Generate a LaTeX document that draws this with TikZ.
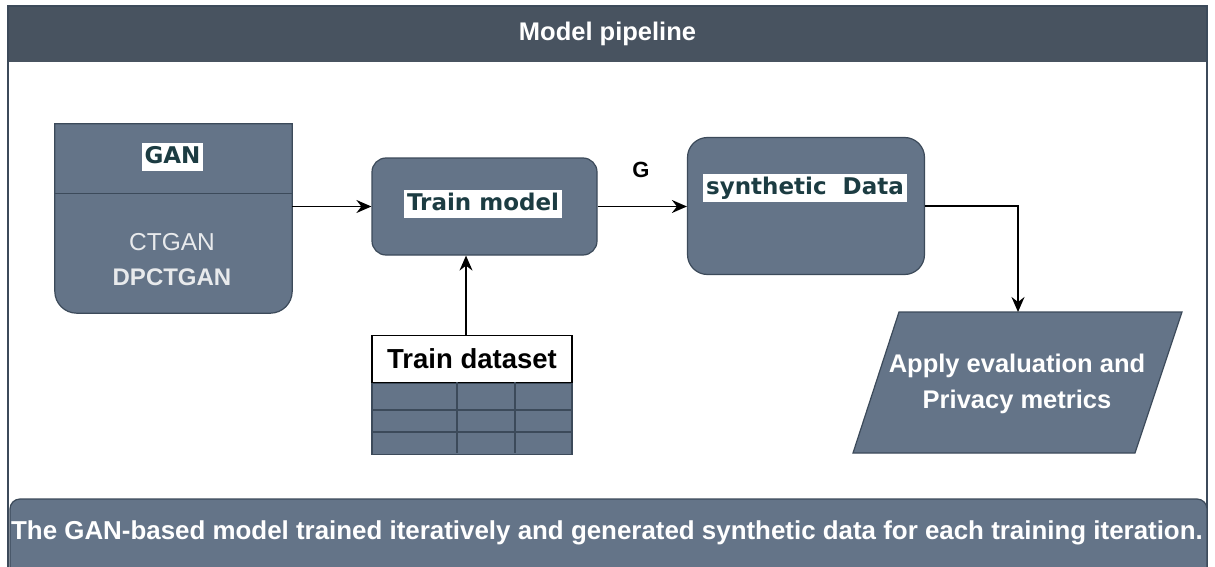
\documentclass[tikz,border=0pt]{standalone}
\usepackage{fontspec}
\setmainfont{Liberation Sans}
\newfontfamily\dvsans{DejaVu Sans}
\usetikzlibrary{arrows.meta,calc}
\definecolor{barcol}{RGB}{72,83,96}
\definecolor{boxcol}{RGB}{100,116,136}
\definecolor{edgecol}{RGB}{60,74,90}
\definecolor{labcol}{RGB}{28,60,66}
\definecolor{softwhite}{RGB}{232,234,236}
\newcommand{\pxfont}[2]{\fontsize{#1}{#2}\selectfont}

\begin{document}
\begin{tikzpicture}[x=1pt,y=-1pt,
  box/.style={draw=edgecol,line width=1.2pt,fill=boxcol},
  hl/.style={fill=white,text=labcol,inner xsep=3pt,inner ysep=3pt,text height=17pt,text depth=5pt,font=\dvsans\bfseries\pxfont{23}{27}},
  arr/.style={-{Stealth[length=15pt,width=13pt,inset=5pt]},line width=1.6pt}]
\useasboundingbox (0,0) rectangle (1215,567);
%outer frame with the title bar
\fill[white] (8,6) rectangle (1207,600);
\fill[barcol] (8,6) rectangle (1207,62);
\draw[edgecol,line width=1.5pt] (8,6) rectangle (1207,600);
\node[text=white,font=\bfseries\pxfont{25.5}{30}] (title) at (607.5,34) {Model pipeline};
%GAN block, sharp on top and rounded below
\node[minimum width=237pt,minimum height=189pt] (gan) at (173.5,218.5) {};
\draw[box] (gan.north west) -- (gan.north east) [rounded corners=22pt] -- (gan.south east) -- (gan.south west) [sharp corners] -- cycle;
\draw[edgecol,line width=1.2pt] ([yshift=-70pt]gan.north west) -- ([yshift=-70pt]gan.north east);
\node[hl] (ganlbl) at (172.5,157) {GAN};
\node[text=softwhite,font=\pxfont{24.5}{29}] (ctgan) at (172,242) {CTGAN};
\node[text=softwhite,font=\bfseries\pxfont{24}{29}] (dpctgan) at (172,277) {DPCTGAN};
%train and synthetic data blocks
\node[box,rounded corners=14pt,minimum width=225pt,minimum height=97pt] (train) at (484.5,206.5) {};
\node[hl] (trainlbl) at (483,204) {Train model};
\node[box,rounded corners=20pt,minimum width=237pt,minimum height=137pt] (synth) at (806,206) {};
\node[hl] (synthlbl) at (805,188) {synthetic\ \ Data};
\node[font=\bfseries\pxfont{22}{26}] (glbl) at (641,170) {G};
%dataset table
\node[draw=black,line width=1.3pt,fill=white,minimum width=200pt,minimum height=47pt,font=\bfseries\pxfont{27.5}{32}] (dshead) at (472,359) {Train dataset};
\node[box,minimum width=200pt,minimum height=71pt,anchor=north] (dsbody) at (dshead.south) {};
\foreach \y in {410,432}
  \draw[edgecol,line width=1.2pt] (372,\y) -- (572,\y);
\foreach \x in {457,515}
  \draw[edgecol,line width=1.2pt] (\x,382) -- (\x,453);
%evaluation step
\coordinate (evaltop) at (1018,312);
\draw[box] (899,312) -- (1182,312) -- (1135,453) -- (853,453) -- cycle;
\node[text=white,font=\bfseries\pxfont{25.5}{36},align=center] (evallbl) at (1017,384) {Apply evaluation and\\Privacy metrics};
%caption bar
\draw[box,rounded corners=10pt] (10,499) rectangle (1207,610);
\node[text=white,font=\bfseries\pxfont{25.9}{30}] (caption) at (607,533) {The GAN-based model trained iteratively and generated synthetic data for each training iteration.};
% draw arrows
\draw[arr] (gan.east |- train.west) -- (train.west);
\draw[arr] (train.east) -- (synth.west |- train.east);
\draw[arr] (synth.east) -| (evaltop);
\draw[arr] ([xshift=-6pt]dshead.north) -- ([xshift=-6pt]dshead.north |- train.south);
\end{tikzpicture}
\end{document}
